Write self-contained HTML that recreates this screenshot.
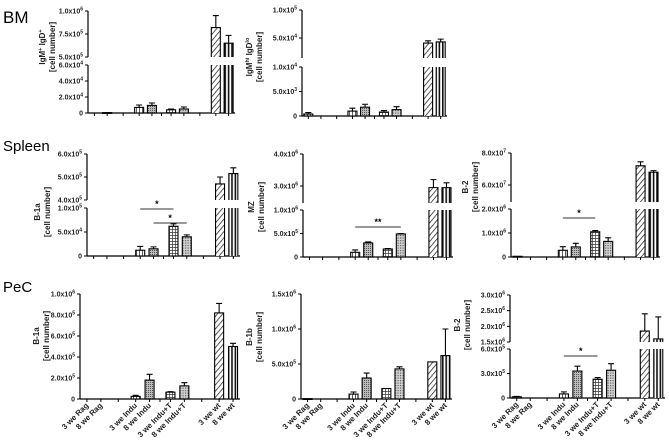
<!DOCTYPE html>
<html><head><meta charset="utf-8"><style>
html,body{margin:0;padding:0;background:#fff;width:669px;height:447px;overflow:hidden}
svg{display:block;font-family:"Liberation Sans",Arial,sans-serif}
</style></head><body>
<svg id="fig" width="669" height="447" viewBox="0 0 669 447">
<defs>
<pattern id="pVert" width="3" height="4" patternUnits="userSpaceOnUse"><rect width="3" height="4" fill="#fff"/><line x1="1.5" y1="0" x2="1.5" y2="4" stroke="#333" stroke-width="0.8"/></pattern>
<pattern id="pDots" width="2" height="2" patternUnits="userSpaceOnUse"><rect width="2" height="2" fill="#bbb"/><rect width="1" height="1" fill="#555"/></pattern>
<pattern id="pGrid" width="3" height="3" patternUnits="userSpaceOnUse"><rect width="3" height="3" fill="#fff"/><path d="M1.5 0V3M0 1.5H3" stroke="#333" stroke-width="0.7"/></pattern>
<pattern id="pDots2" width="2.5" height="2.5" patternUnits="userSpaceOnUse"><rect width="2.5" height="2.5" fill="#d0d0d0"/><rect width="1.2" height="1.2" fill="#666"/></pattern>
<pattern id="pDiag" width="4" height="4" patternUnits="userSpaceOnUse" patternTransform="rotate(40)"><rect width="4" height="4" fill="#fff"/><line x1="0" y1="0" x2="0" y2="4" stroke="#111" stroke-width="1.4"/></pattern>
<pattern id="pThick" width="3.4" height="4" patternUnits="userSpaceOnUse"><rect width="3.4" height="4" fill="#fff"/><rect width="1.6" height="4" fill="#111"/></pattern>
</defs>
<text x="3" y="23" font-size="17">BM</text>
<text x="3" y="151" font-size="15">Spleen</text>
<text x="3" y="292" font-size="15">PeC</text>
</svg>
<script>
const categories = ["3 we Rag","8 we Rag","3 we Indu","8 we Indu","3 we Indu+T","8 we Indu+T","3 we wt","8 we wt"];
const bmDoubleVals = [0, 500, 7000, 9500, 4000, 5000, 820000, 650000];
const bmDoubleErrs = [0, 0, 3000, 3000, 1000, 2500, 130000, 85000];
const bmHiLoVals = [400, 0, 1000, 1800, 800, 1300, 41000, 43000];
const bmHiLoErrs = [300, 0, 600, 600, 300, 600, 4000, 5000];
const spB1aVals = [0, 0, 12000, 15000, 62000, 40000, 470000, 515000];
const spB1aErrs = [0, 0, 8000, 4000, 5000, 4000, 30000, 25000];
const spMzVals = [0, 0, 100000, 300000, 170000, 490000, 2950000, 2950000];
const spMzErrs = [0, 0, 50000, 20000, 10000, 10000, 250000, 150000];
const spB2Vals = [30000, 0, 280000, 420000, 1050000, 650000, 72000000, 68000000];
const spB2Errs = [0, 0, 150000, 150000, 50000, 150000, 2500000, 1000000];
const pecB1aVals = [0, 0, 25000, 180000, 65000, 125000, 820000, 500000];
const pecB1aErrs = [0, 0, 10000, 55000, 5000, 30000, 90000, 30000];
const pecB1bVals = [5000, 0, 70000, 300000, 150000, 430000, 530000, 620000];
const pecB1bErrs = [0, 0, 30000, 70000, 0, 30000, 0, 380000];
const pecB2Vals = [15000, 0, 50000, 330000, 230000, 340000, 1850000, 1600000];
const pecB2Errs = [5000, 0, 25000, 60000, 20000, 80000, 550000, 700000];
const bmDoubleTicks = [0, 20000, 40000, 60000, 500000, 750000, 1000000];
const bmHiLoTicks = [0, 5000, 10000, 50000, 100000];
const spB1aTicks = [0, 50000, 100000, 400000, 500000, 600000];
const spMzTicks = [0, 500000, 1000000, 3000000, 4000000];
const spB2Ticks = [0, 1000000, 2000000, 60000000, 80000000];
const pecB1aTicks = [0, 200000, 400000, 600000, 800000, 1000000];
const pecB1bTicks = [0, 500000, 1000000, 1500000];
const pecB2Ticks = [0, 300000, 600000, 1500000, 2000000, 2500000, 3000000];
const sigFrom = [2, 3, 2, 2, 2];
const sigTo = [4, 5, 5, 4, 4];
const sigLabels = ["*", "*", "**", "*", "*"];

const slots = [0.5,1.5,4,5,6.5,7.5,10,11];
const tickSlots = [0.5,1.5,2.75,4,5,5.75,6.5,7.5,8.75,10,11];
const fills = ["url(#pVert)","url(#pVert)","url(#pVert)","url(#pDots)","url(#pGrid)","url(#pDots2)","url(#pDiag)","url(#pThick)"];
const NS = "http://www.w3.org/2000/svg";
const svg = document.getElementById("fig");
function mk(tag, attrs, parent){const e=document.createElementNS(NS,tag);for(const k in attrs)e.setAttribute(k,attrs[k]);(parent||svg).appendChild(e);return e;}

const panels = [
 {id:"bm-igm-igd",vals:bmDoubleVals,errs:bmDoubleErrs,ticks:bmDoubleTicks,ax:88,x1:235,base:113,low:{max:60000,top:65},up:{min:500000,max:1000000,bot:57,top:11},t1:["IgM","+"," IgD","+"],tx:45,ty:47},
 {id:"bm-igmhi-igdlo",vals:bmHiLoVals,errs:bmHiLoErrs,ticks:bmHiLoTicks,ax:302,x1:447,base:116,low:{max:10000,top:67},up:{min:14300,max:100000,bot:58,top:10},t1:["IgM","hi"," IgD","lo"],tx:252,ty:57},
 {id:"spleen-b1a",vals:spB1aVals,errs:spB1aErrs,ticks:spB1aTicks,ax:87,x1:240,base:256,low:{max:100000,top:208},up:{min:400000,max:600000,bot:200,top:154},t1:["B-1a"],tx:40,ty:212,sig:[[0,209],[1,223]]},
 {id:"spleen-mz",vals:spMzVals,errs:spMzErrs,ticks:spMzTicks,ax:303,x1:453,base:257,low:{max:1000000,top:210},up:{min:2470000,max:4000000,bot:203,top:154},t1:["MZ"],tx:254,ty:207,sig:[[2,227]]},
 {id:"spleen-b2",vals:spB2Vals,errs:spB2Errs,ticks:spB2Ticks,ax:511,x1:660,base:257,low:{max:2000000,top:209},up:{min:49400000,max:80000000,bot:202,top:153},t1:["B-2"],tx:468,ty:187,sig:[[3,218]]},
 {id:"pec-b1a",vals:pecB1aVals,errs:pecB1aErrs,ticks:pecB1aTicks,ax:80,x1:240,base:399,low:{max:1000000,top:294},t1:["B-1a"],tx:39,ty:336,xl:true},
 {id:"pec-b1b",vals:pecB1bVals,errs:pecB1bErrs,ticks:pecB1bTicks,ax:301,x1:452,base:399,low:{max:1500000,top:294},t1:["B-1b"],tx:252,ty:337,xl:true},
 {id:"pec-b2",vals:pecB2Vals,errs:pecB2Errs,ticks:pecB2Ticks,ax:510,x1:665,base:398,low:{max:600000,top:349},up:{min:1500000,max:3000000,bot:342,top:295},t1:["B-2"],tx:460,ty:325,xl:true,sig:[[4,356]]}
];

function fmtParts(v){ if(v===0) return null; const e=Math.floor(Math.log10(v)+1e-9); return [(v/Math.pow(10,e)).toFixed(1), String(e)]; }

panels.forEach(p=>{
  const g = mk("g",{});
  
  
  const unit = (p.x1-p.ax)/11.5;
  const xS = s => p.ax + s*unit;
  const yS = v => {
    if(!p.up || v<=p.low.max) return p.base - v/p.low.max*(p.base-p.low.top);
    return p.up.bot - (v-p.up.min)/(p.up.max-p.up.min)*(p.up.bot-p.up.top);
  };
  const yl = mk("path",{d: p.up ? `M${p.ax} ${p.base}V${p.low.top}M${p.ax} ${p.up.bot}V${p.up.top}` : `M${p.ax} ${p.base}V${p.low.top}`, stroke:"#000","stroke-width":1.2,fill:"none"}, g);
  
  
  const xl = mk("line",{x1:p.ax,y1:p.base,x2:p.x1,y2:p.base,stroke:"#000","stroke-width":1.2}, g);
  
  
  tickSlots.forEach(s=>{ mk("line",{x1:xS(s),y1:p.base,x2:xS(s),y2:p.base+3,stroke:"#000","stroke-width":1},g); });
  p.ticks.forEach(v=>{
    const y=yS(v);
    mk("line",{x1:p.ax-3,y1:y,x2:p.ax,y2:y,stroke:"#000","stroke-width":1},g);
    const t=mk("text",{x:p.ax-5,y:y+2.5,"font-size":7,"font-weight":"bold","text-anchor":"end",fill:"#222"},g);
    
    
    const f=fmtParts(v);
    if(!f){t.textContent="0";}
    else{ const a=mk("tspan",{},t); a.textContent=f[0]+"x10"; const b=mk("tspan",{"font-size":5,dy:-3},t); b.textContent=f[1]; }
  });
  p.vals.forEach((v,i)=>{
    const cx=xS(slots[i]), w=9;
    const ytop=yS(v);
    const bar = mk("g",{},g);
    
    
    const a={fill:fills[i],stroke:"#000","stroke-width":1.1};
    if(p.up && v>p.low.max){
      mk("rect",{x:cx-w/2,y:p.low.top,width:w,height:p.base-p.low.top,fill:fills[i]},bar);
      mk("path",{d:`M${cx-w/2} ${p.base}V${p.low.top}M${cx+w/2} ${p.low.top}V${p.base}`,stroke:"#000","stroke-width":1.1,fill:"none"},bar);
      mk("rect",{x:cx-w/2,y:ytop,width:w,height:Math.max(0,p.up.bot-ytop),fill:fills[i]},bar);
      mk("path",{d:`M${cx-w/2} ${p.up.bot}V${ytop}H${cx+w/2}V${p.up.bot}`,stroke:"#000","stroke-width":1.1,fill:"none"},bar);
    } else if(v>0){
      mk("rect",Object.assign({x:cx-w/2,y:ytop,width:w,height:Math.max(0.8,p.base-ytop)},a),bar);
    }
    if(p.errs[i]>0){
      const ye=yS(v+p.errs[i]);
      mk("path",{d:`M${cx} ${ytop}V${ye}M${cx-3} ${ye}H${cx+3}`,stroke:"#000","stroke-width":1.1,fill:"none"},bar);
    }
  });
  (p.sig||[]).forEach(([k,y])=>{
    const s=mk("g",{},g);
    
    
    mk("line",{x1:xS(slots[sigFrom[k]]),y1:y,x2:xS(slots[sigTo[k]]),y2:y,stroke:"#333","stroke-width":1},s);
    const t=mk("text",{x:(xS(slots[sigFrom[k]])+xS(slots[sigTo[k]]))/2,y:y-2,"font-size":9,"font-weight":"bold","text-anchor":"middle"},s);
    t.textContent=sigLabels[k];
  });
  const tt=mk("text",{transform:`translate(${p.tx},${p.ty}) rotate(-90)`,"font-size":8,"font-weight":"bold","text-anchor":"middle",fill:"#222"},g);
  
  
  const l1=mk("tspan",{x:0,y:0},tt);
  if(p.t1.length===4){
    const a=mk("tspan",{},l1);a.textContent=p.t1[0];
    const b=mk("tspan",{"font-size":5.5,dy:-3},l1);b.textContent=p.t1[1];
    const c=mk("tspan",{dy:3},l1);c.textContent=p.t1[2];
    const d=mk("tspan",{"font-size":5.5,dy:-3},l1);d.textContent=p.t1[3];
  } else { l1.textContent=p.t1[0]; }
  const l2=mk("tspan",{x:0,y:10},tt); l2.textContent="[cell number]";
  if(p.xl){
    categories.forEach((c,i)=>{
      const x=xS(slots[i])+2, y=p.base+7;
      const t=mk("text",{transform:`translate(${x},${y}) rotate(-45)`,"font-size":7.8,"font-weight":"bold","text-anchor":"end",fill:"#222"},g);
      
      
      t.textContent=c;
    });
  }
});
</script>
</body></html>
